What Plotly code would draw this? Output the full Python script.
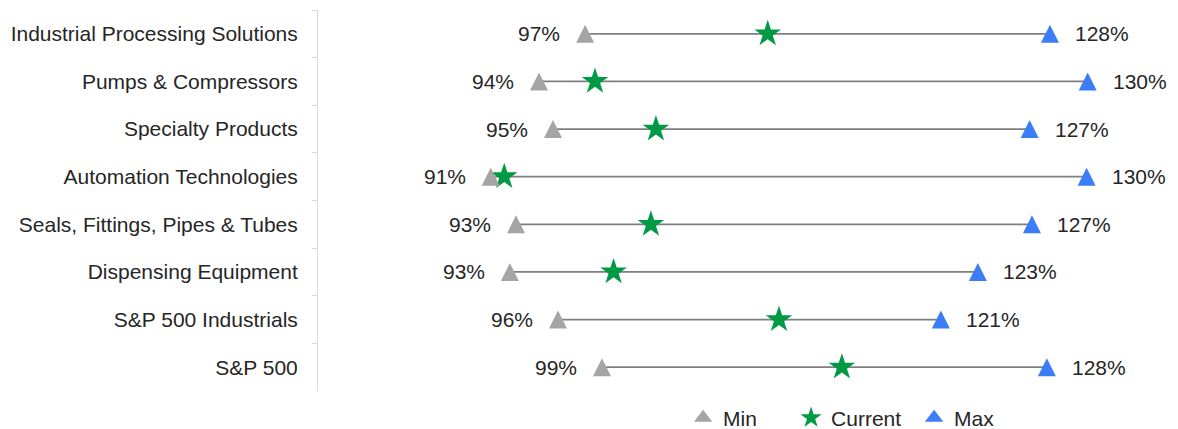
import plotly.graph_objects as go

categories = [
    "Industrial Processing Solutions",
    "Pumps & Compressors",
    "Specialty Products",
    "Automation Technologies",
    "Seals, Fittings, Pipes & Tubes",
    "Dispensing Equipment",
    "S&P 500 Industrials",
    "S&P 500",
]
min_vals = [97.45, 94.42, 95.34, 91.25, 92.91, 92.51, 95.67, 98.56]
current_vals = [109.44, 98.10, 102.10, 92.14, 101.77, 99.32, 110.18, 114.31]
max_vals = [127.97, 130.45, 126.64, 130.38, 126.79, 123.24, 120.81, 127.77]

FONT = "Liberation Sans, Arial, sans-serif"
TEXT_COLOR = "#262626"
GRAY = "#A5A5A5"
BLUE = "#3B7DF6"
GREEN = "#009A44"
FS = 21

n = len(categories)
TRI = 18                      # triangle marker size (px)
ROW_PX = 381 / n              # pixel height of one category row
shift = (TRI / 2) / ROW_PX    # shift so that the arrow triangle is centred on the line

fig = go.Figure()

# connector lines
lx, ly = [], []
for c, lo, hi in zip(categories, min_vals, max_vals):
    lx += [lo, hi, None]
    ly += [c, c, None]
fig.add_trace(go.Scatter(x=lx, y=ly, mode="lines", line=dict(color="#7F7F7F", width=1.8),
                         showlegend=False, hoverinfo="skip"))

fig.add_trace(go.Scatter(x=min_vals, y=categories, mode="markers", name="Min", yaxis="y2",
                         showlegend=False,
                         marker=dict(symbol="arrow-up", size=TRI, color=GRAY)))
fig.add_trace(go.Scatter(x=max_vals, y=categories, mode="markers", name="Max", yaxis="y2",
                         showlegend=False,
                         marker=dict(symbol="arrow-up", size=TRI, color=BLUE)))
fig.add_trace(go.Scatter(x=current_vals, y=categories, mode="markers", name="Current",
                         showlegend=False,
                         marker=dict(symbol="star", size=20, color=GREEN)))

# legend entries
fig.add_trace(go.Scatter(x=[None], y=[None], mode="markers", name="Min", legendwidth=63,
                         marker=dict(symbol="triangle-up", size=16, color=GRAY)))
fig.add_trace(go.Scatter(x=[None], y=[None], mode="markers", name="Current", legendwidth=78,
                         marker=dict(symbol="star", size=16, color=GREEN)))
fig.add_trace(go.Scatter(x=[None], y=[None], mode="markers", name="Max",
                         marker=dict(symbol="triangle-up", size=16, color=BLUE)))

annotations = []
for c, lo, hi in zip(categories, min_vals, max_vals):
    annotations.append(dict(x=lo, y=c, xref="x", yref="y", text=f"{lo:.0f}%", showarrow=False,
                            xanchor="right", yanchor="middle", xshift=-23,
                            font=dict(family=FONT, size=FS, color=TEXT_COLOR)))
    annotations.append(dict(x=hi, y=c, xref="x", yref="y", text=f"{hi:.0f}%", showarrow=False,
                            xanchor="left", yanchor="middle", xshift=23,
                            font=dict(family=FONT, size=FS, color=TEXT_COLOR)))

fig.update_layout(
    width=1170, height=421,
    margin=dict(l=310, r=0, t=2, b=38),
    paper_bgcolor="white", plot_bgcolor="white",
    font=dict(family=FONT, size=FS, color=TEXT_COLOR),
    annotations=annotations,
    xaxis=dict(range=[79.91, 136.38], visible=False, fixedrange=True),
    yaxis=dict(
        type="category", categoryorder="array", categoryarray=categories,
        range=[n - 0.5, -0.5], showgrid=False, zeroline=False,
        showline=True, linecolor="#D9D9D9", linewidth=1,
        ticks="outside", tickson="boundaries", ticklen=5, tickcolor="#D9D9D9",
        ticklabelstandoff=15,
        tickfont=dict(family=FONT, size=FS, color=TEXT_COLOR),
    ),
    yaxis2=dict(
        type="category", categoryorder="array", categoryarray=categories,
        range=[n - 0.5 + shift, -0.5 + shift], overlaying="y", visible=False,
    ),
    legend=dict(orientation="h", xref="container", yref="container",
                x=0.577, xanchor="left", y=0.026, yanchor="middle",
                traceorder="normal", font=dict(family=FONT, size=FS, color=TEXT_COLOR),
                itemwidth=30),
)

fig.write_html("out.html")
